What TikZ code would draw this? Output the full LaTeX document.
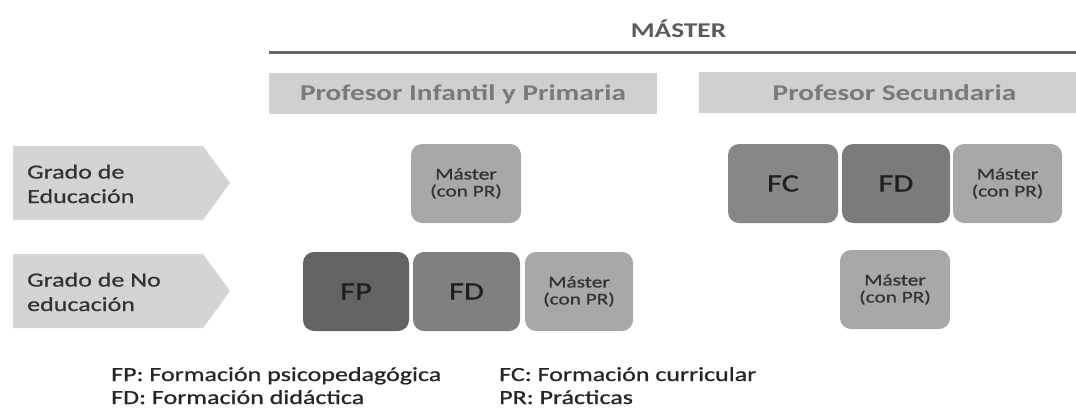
\documentclass[tikz,border=0pt]{standalone}
\usepackage{fontspec}
\setmainfont{Carlito}[FakeStretch=1.3]
\newfontfamily\semib{Carlito}[FakeStretch=1.3,FakeBold=0.8]
\definecolor{chevgray}{HTML}{D4D4D4}
\definecolor{hdrgray}{HTML}{D0D0D0}
\definecolor{hdrtext}{HTML}{7A7A7A}
\definecolor{titletext}{HTML}{5A5A5A}
\definecolor{rulegray}{HTML}{666666}
\definecolor{fpgray}{HTML}{636363}
\definecolor{fdgray}{HTML}{808080}
\definecolor{fcgray}{HTML}{878787}
\definecolor{fdrgray}{HTML}{7B7B7B}
\definecolor{mastergray}{HTML}{A8A8A8}
\definecolor{labeltext}{HTML}{333333}
\begin{document}
\begin{tikzpicture}[x=1pt,y=-1pt,
  chev/.style={fill=chevgray,draw=none},
  hdr/.style={fill=hdrgray,draw=none,inner sep=0pt,minimum height=41pt},
  hdrlabel/.style={inner sep=0pt,text=hdrtext,font=\bfseries\fontsize{22.5}{26}\selectfont},
  rowlabel/.style={inner sep=0pt,anchor=base west,align=left,text=labeltext,font=\semib\fontsize{20}{24.5}\selectfont},
  blk/.style={rounded corners=11pt,inner sep=0pt,minimum height=79pt,align=center,text=black!88},
  big/.style={blk,font=\semib\fontsize{25}{28}\selectfont},
  mst/.style={blk,fill=mastergray,text=black!80,font=\semib\fontsize{16.4}{17}\selectfont},
  legend/.style={inner sep=0pt,anchor=base west,text=black!85,font=\semib\fontsize{20}{20}\selectfont}]
\useasboundingbox (0,0) rectangle (1076,410);
\fill[white] (0,0) rectangle (1076,410);

% title and rule
\node[inner sep=0pt,anchor=base,text=titletext,font=\bfseries\fontsize{21}{24}\selectfont] (title) at (678.5,37) {MÁSTER};
\coordinate (ruleL) at (269,52);
\coordinate (ruleR) at (1076,52);
\draw[rulegray,line width=3pt] (ruleL) -- (ruleR);

% header boxes
\node[hdr,minimum width=388pt] (hinf) at (463,93.5) {};
\node[hdrlabel] (hinft) at (463,94) {Profesor Infantil y Primaria};
\node[hdr,minimum width=377pt,minimum height=41pt] (hsec) at (887.5,92.5) {};
\node[hdrlabel] (hsect) at (894.5,93) {Profesor Secundaria};

% row chevrons
\fill[chev] (13,146) -- (203,146) -- (230,183) -- (203,220) -- (13,220) -- cycle;
\fill[chev] (13,254) -- (203,254) -- (230,291) -- (203,328) -- (13,328) -- cycle;
\node[rowlabel] (r1) at (27,203) {Grado de\\Educación};
\node[rowlabel] (r2) at (27,311) {Grado de No\\educación};

% row 1 boxes
\node[mst,minimum width=110pt] (m1) at (466,183.5) {Máster\\(con PR)};
\node[big,fill=fcgray,minimum width=110pt] (fc) at (783,183.5) {FC};
\node[big,fill=fdrgray,minimum width=108pt] (fd2) at (896,183.5) {FD};
\node[mst,minimum width=109pt] (m3) at (1007.5,183.5) {Máster\\(con PR)};

% row 2 boxes
\node[big,fill=fpgray,minimum width=106pt] (fp) at (356,291.5) {FP};
\node[big,fill=fdgray,minimum width=107pt] (fd1) at (466.5,291.5) {FD};
\node[mst,minimum width=108pt] (m2) at (579,291.5) {Máster\\(con PR)};
\node[mst,minimum width=110pt] (m4) at (895,289.5) {Máster\\(con PR)};

% legend
\node[legend] (l1) at (111,381) {FP: Formación psicopedagógica};
\node[legend] (l2) at (111,404) {FD: Formación didáctica};
\node[legend] (l3) at (499,381) {FC: Formación curricular};
\node[legend] (l4) at (499,404) {PR: Prácticas};
\end{tikzpicture}
\end{document}
